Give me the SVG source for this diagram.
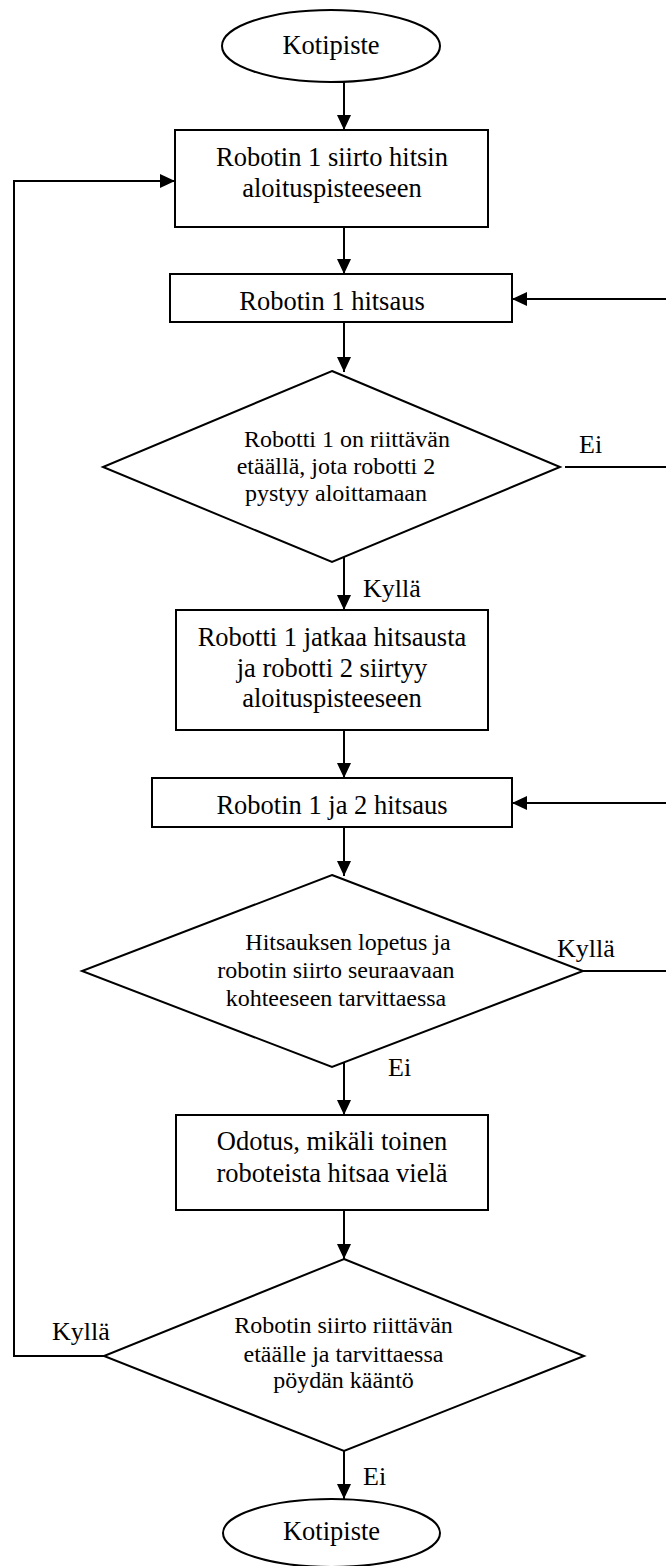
<svg xmlns="http://www.w3.org/2000/svg" width="666" height="1566" viewBox="0 0 666 1566">
<style>
.s{fill:#fff;stroke:#000;stroke-width:2}
.c{fill:none;stroke:#000;stroke-width:2}
.t{font-family:"Liberation Serif","Times New Roman",serif;font-size:26.5px;fill:#000;text-anchor:middle}
.d{font-family:"Liberation Serif","Times New Roman",serif;font-size:24px;fill:#000;text-anchor:middle}
.l{font-family:"Liberation Serif","Times New Roman",serif;font-size:26px;fill:#000}
</style>
<defs>
<marker id="a" markerUnits="userSpaceOnUse" markerWidth="16" markerHeight="14" refX="15" refY="7" orient="auto">
<path d="M0,0 L15,7 L0,14 z" fill="#000"/>
</marker>
</defs>
<g id="connectors">
<line class="c" x1="344" y1="82" x2="344" y2="130" marker-end="url(#a)"/>
<line class="c" x1="344" y1="227" x2="344" y2="274" marker-end="url(#a)"/>
<line class="c" x1="344" y1="322" x2="344" y2="372" marker-end="url(#a)"/>
<line class="c" x1="344" y1="557" x2="344" y2="610" marker-end="url(#a)"/>
<line class="c" x1="344" y1="730" x2="344" y2="778" marker-end="url(#a)"/>
<line class="c" x1="344" y1="827" x2="344" y2="876" marker-end="url(#a)"/>
<line class="c" x1="344" y1="1062" x2="344" y2="1115" marker-end="url(#a)"/>
<line class="c" x1="344" y1="1210" x2="344" y2="1259" marker-end="url(#a)"/>
<line class="c" x1="344" y1="1451" x2="344" y2="1499" marker-end="url(#a)"/>
<path class="c" d="M565,467 H690 V299 H512" marker-end="url(#a)"/>
<path class="c" d="M566,971 H690 V803 H512" marker-end="url(#a)"/>
<path class="c" d="M104,1356 H14 V181 H175" marker-end="url(#a)"/>
<text class="l" x="579" y="453">Ei</text>
<text class="l" x="363" y="597">Kyllä</text>
<text class="l" x="557" y="957">Kyllä</text>
<text class="l" x="388" y="1076">Ei</text>
<text class="l" x="52" y="1340">Kyllä</text>
<text class="l" x="363" y="1485">Ei</text>
</g>
<g id="start">
<ellipse class="s" cx="331" cy="46" rx="109" ry="36"/>
<text class="t" x="331" y="54">Kotipiste</text>
</g>
<g id="box1">
<rect class="s" x="175" y="130" width="313" height="97"/>
<text class="t" x="332" y="166">Robotin 1 siirto hitsin</text>
<text class="t" x="332" y="197">aloituspisteeseen</text>
</g>
<g id="box2">
<rect class="s" x="170" y="274" width="342" height="48"/>
<text class="t" x="332" y="310">Robotin 1 hitsaus</text>
</g>
<g id="decision1">
<polygon class="s" points="332,371 560,467 332,562 103,467"/>
<text class="d" x="347" y="447">Robotti 1 on riittävän</text>
<text class="d" x="336" y="474">etäällä, jota robotti 2</text>
<text class="d" x="336" y="501">pystyy aloittamaan</text>
</g>
<g id="box3">
<rect class="s" x="176" y="610" width="312" height="120"/>
<text class="t" x="332" y="646">Robotti 1 jatkaa hitsausta</text>
<text class="t" x="332" y="677">ja robotti 2 siirtyy</text>
<text class="t" x="332" y="707">aloituspisteeseen</text>
</g>
<g id="box4">
<rect class="s" x="152" y="778" width="360" height="49"/>
<text class="t" x="332" y="814">Robotin 1 ja 2 hitsaus</text>
</g>
<g id="decision2">
<polygon class="s" points="332,875 583,971 332,1067 82,971"/>
<text class="d" x="348" y="950">Hitsauksen lopetus ja</text>
<text class="d" x="336" y="978">robotin siirto seuraavaan</text>
<text class="d" x="336" y="1006">kohteeseen tarvittaessa</text>
</g>
<g id="box5">
<rect class="s" x="176" y="1115" width="312" height="95"/>
<text class="t" x="332" y="1150">Odotus, mikäli toinen</text>
<text class="t" x="332" y="1182">roboteista hitsaa vielä</text>
</g>
<g id="decision3">
<polygon class="s" points="344,1259 584,1356 344,1451 104,1356"/>
<text class="d" x="343.5" y="1333">Robotin siirto riittävän</text>
<text class="d" x="343.5" y="1362">etäälle ja tarvittaessa</text>
<text class="d" x="343.5" y="1388">pöydän kääntö</text>
</g>
<g id="end">
<ellipse class="s" cx="331.5" cy="1533" rx="108.5" ry="34"/>
<text class="t" x="331.5" y="1540">Kotipiste</text>
</g>
</svg>
